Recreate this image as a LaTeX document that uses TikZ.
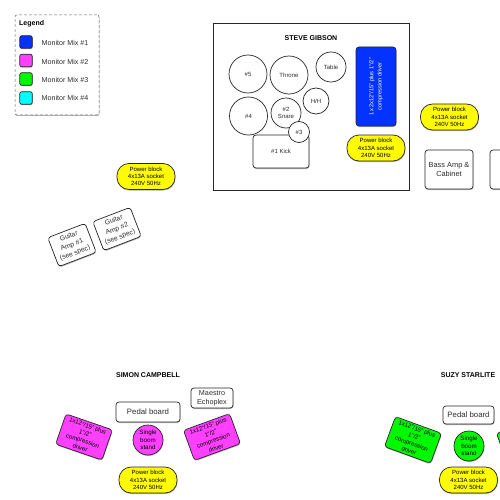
\documentclass[tikz,border=0pt]{standalone}
\usepackage{fontspec}
\setmainfont{Liberation Sans}
\usetikzlibrary{shadows}
\definecolor{monBlue}{HTML}{0433FF}
\definecolor{monPink}{HTML}{FF40FF}
\definecolor{monGreen}{HTML}{00F900}
\definecolor{monCyan}{HTML}{00FDFF}
\definecolor{blockYellow}{HTML}{FFFB00}
\definecolor{textDark}{HTML}{2D2D2D}

\begin{document}
\begin{tikzpicture}[
    x=1pt, y=-1pt,
    shade/.style={drop shadow={shadow xshift=0.4pt, shadow yshift=-1pt, fill=black, opacity=0.3}},
    box/.style={rectangle, rounded corners=3pt, draw=black!85, line width=0.7pt, fill=#1, shade,
                inner sep=0pt, align=center, text=textDark, font=\fontsize{6}{7.3}\selectfont},
    box/.default=white,
    drum/.style={circle, draw=black!85, line width=0.7pt, fill=white, inner sep=0pt, align=center,
                 minimum size=#1, text=textDark, font=\fontsize{6}{7.6}\selectfont},
    block/.style={box=blockYellow, rounded corners=12pt, minimum width=58pt, minimum height=26pt, text=black},
    boom/.style={drum=30pt, fill=#1, shade, text=black, font=\fontsize{6.2}{7.4}\selectfont},
    wedge/.style={box=#1, minimum width=49pt, minimum height=32pt, text=black, font=\fontsize{6.1}{7.8}\selectfont},
    amp/.style={box, minimum width=40pt, minimum height=31pt, font=\fontsize{6.8}{8.8}\selectfont},
    pedal/.style={box, font=\fontsize{7.8}{9.4}\selectfont},
    swatch/.style={box=#1, rounded corners=2pt, minimum width=12.5pt, minimum height=12.5pt},
    swlabel/.style={anchor=west, text=textDark, font=\fontsize{7.1}{8}\selectfont},
    ttl/.style={font=\fontsize{7}{8}\selectfont\bfseries, text=black},
  ]
    \useasboundingbox (0,0) rectangle (500,500);

    % legend
    \node[rectangle, rounded corners=2pt, draw=black!60, densely dashed, line width=0.5pt, fill=white,
          shade, minimum width=84pt, minimum height=100pt] (legend) at (57,65) {};
    \node[anchor=west, inner sep=0pt, font=\fontsize{7}{8}\selectfont\bfseries] (legendTtl) at (19,23.5) {Legend};
    \node[swatch=monBlue] (sw1) at (26,42) {};
    \node[swlabel, inner sep=0pt] (lb1) at (41.5,42.5) {Monitor Mix \#1};
    \node[swatch=monPink] (sw2) at (26,60.5) {};
    \node[swlabel, inner sep=0pt] (lb2) at (41.5,61.5) {Monitor Mix \#2};
    \node[swatch=monGreen] (sw3) at (26,79) {};
    \node[swlabel, inner sep=0pt] (lb3) at (41.5,79.5) {Monitor Mix \#3};
    \node[swatch=monCyan] (sw4) at (26,98) {};
    \node[swlabel, inner sep=0pt] (lb4) at (41.5,98) {Monitor Mix \#4};

    % drum riser
    \node[box, rounded corners=0pt, minimum width=196pt, minimum height=167pt] (riser) at (311,106.5) {};
    \node[ttl] (steve) at (311,38) {STEVE GIBSON};
    \node[drum=38pt] (tom5) at (248,74) {\#5};
    \node[drum=38pt] (throne) at (289,75) {Throne};
    \node[drum=30pt] (table) at (331,67) {Table};
    \node[drum=26pt] (hihat) at (316,101) {H/H};
    \node[drum=38pt] (tom4) at (248.5,116) {\#4};
    \node[drum=30pt] (snare) at (286,113) {\#2\\Snare};
    \node[box, minimum width=56pt, minimum height=33pt] (kick) at (281,151.5) {\#1 Kick};
    \node[drum=21pt] (tom3) at (299,132) {\#3};
    \node[box=monBlue, minimum width=40pt, minimum height=79pt] (sub1) at (376,86.5) {};
    \node[rotate=90, align=center, text=white, font=\fontsize{5.7}{8.3}\selectfont] (sub1txt) at (376,86.5) {1x 2x12"/15" plus 1"/2"\\compression driver};
    \node[block] (pb1) at (376,148) {Power block\\4x13A socket\\240V 50Hz};

    % bass and guitars
    \node[block] (pb2) at (449.5,117) {Power block\\4x13A socket\\240V 50Hz};
    \node[box, minimum width=48pt, minimum height=39pt, font=\fontsize{7.4}{9}\selectfont] (bass) at (449,169.5) {Bass Amp \&\\Cabinet};
    \node[box, minimum width=48pt, minimum height=39pt] (cab) at (514,169.5) {};
    \node[block] (pb3) at (146,176.5) {Power block\\4x13A socket\\240V 50Hz};
    \node[amp, rotate=21] (gtr1) at (72,245) {Guitar\\Amp \#1\\(see spec)};
    \node[amp, rotate=21] (gtr2) at (117,229) {Guitar\\Amp \#2\\(see spec)};

    % simon
    \node[ttl] (simon) at (148,375) {SIMON CAMPBELL};
    \node[pedal, minimum width=64pt, minimum height=20pt] (pedal1) at (148,412) {Pedal board};
    \node[pedal, minimum width=42pt, minimum height=20pt, font=\fontsize{7.2}{8.8}\selectfont] (echo) at (212,398) {Maestro\\Echoplex};
    \node[boom=monPink] (boom1) at (148,440) {Single\\boom\\stand};
    \node[wedge=monPink, rotate=-19] (wedge1) at (84,437) {1x12"/15" plus\\1"/2"\\compression\\driver};
    \node[wedge=monPink, rotate=20] (wedge2) at (212,437) {1x12"/15" plus\\1"/2"\\compression\\driver};
    \node[block] (pb4) at (148,480) {Power block\\4x13A socket\\240V 50Hz};

    % suzy
    \node[ttl] (suzy) at (468,375) {SUZY STARLITE};
    \node[pedal, minimum width=51pt, minimum height=18pt] (pedal2) at (468.5,415) {Pedal board};
    \node[boom=monGreen] (boom2) at (469,446) {Single\\boom\\stand};
    \node[wedge=monGreen, rotate=-20] (wedge3) at (413,440) {1x12"/15" plus\\1"/2"\\compression\\driver};
    \node[wedge=monGreen, rotate=20] (wedge4) at (525,440) {};
    \node[block] (pb5) at (468.5,480) {Power block\\4x13A socket\\240V 50Hz};
\end{tikzpicture}
\end{document}
